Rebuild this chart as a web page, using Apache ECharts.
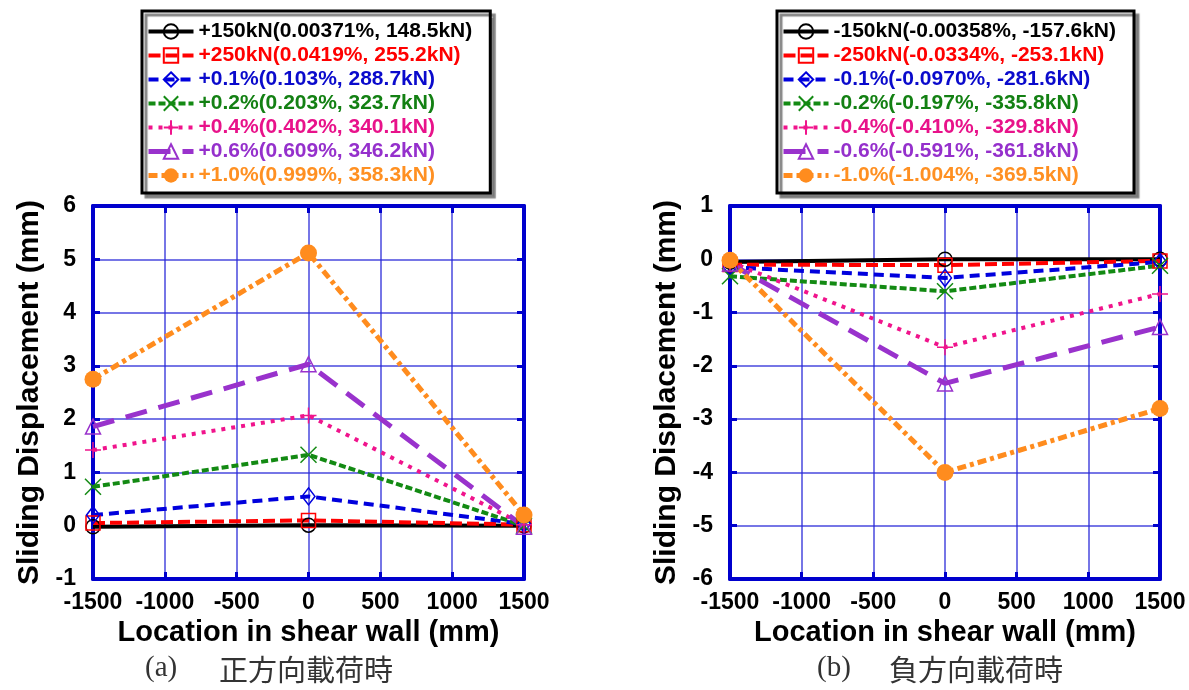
<!DOCTYPE html>
<html>
<head>
<meta charset="utf-8">
<script src="https://cdn.jsdelivr.net/npm/echarts@6/dist/echarts.min.js"></script>
<style>
  html, body { margin: 0; padding: 0; background: #ffffff; }
  #chart { width: 1189px; height: 690px; }
</style>
</head>
<body>
<div id="chart"></div>
<script>
// Measurement positions along the wall (mm)
const locations = [-1500, 0, 1500];

// Positive loading: sliding displacement (mm) at each location
const posNames = [
  '+150kN(0.00371%, 148.5kN)',
  '+250kN(0.0419%, 255.2kN)',
  '+0.1%(0.103%, 288.7kN)',
  '+0.2%(0.203%, 323.7kN)',
  '+0.4%(0.402%, 340.1kN)',
  '+0.6%(0.609%, 346.2kN)',
  '+1.0%(0.999%, 358.3kN)'
];
const pos150kN = [-0.02, 0.01, 0.0];
const pos250kN = [0.05, 0.10, 0.02];
const pos01 = [0.20, 0.55, 0.03];
const pos02 = [0.73, 1.33, 0.0];
const pos04 = [1.42, 2.07, 0.02];
const pos06 = [1.86, 3.03, -0.02];
const pos10 = [2.75, 5.12, 0.20];

// Negative loading: sliding displacement (mm) at each location
const negNames = [
  '-150kN(-0.00358%, -157.6kN)',
  '-250kN(-0.0334%, -253.1kN)',
  '-0.1%(-0.0970%, -281.6kN)',
  '-0.2%(-0.197%, -335.8kN)',
  '-0.4%(-0.410%, -329.8kN)',
  '-0.6%(-0.591%, -361.8kN)',
  '-1.0%(-1.004%, -369.5kN)'
];
const neg150kN = [-0.05, 0.0, 0.0];
const neg250kN = [-0.10, -0.11, -0.03];
const neg01 = [-0.15, -0.35, -0.05];
const neg02 = [-0.32, -0.60, -0.12];
const neg04 = [-0.05, -1.65, -0.65];
const neg06 = [-0.08, -2.33, -1.27];
const neg10 = [-0.02, -4.00, -2.80];

// Axis ranges / tick steps
const xRange = { min: -1500, max: 1500, step: 500 };
const yRangePos = { min: -1, max: 6, step: 1 };
const yRangeNeg = { min: -6, max: 1, step: 1 };

const posValues = [pos150kN, pos250kN, pos01, pos02, pos04, pos06, pos10];
const negValues = [neg150kN, neg250kN, neg01, neg02, neg04, neg06, neg10];

const FONT = '"Liberation Sans", Arial, sans-serif';
const FRAME = '#0000CD';
const GRIDC = 'rgba(40,40,215,0.85)';

const crossPath = 'path://M0,0L10,10M10,0L0,10';
const plusPath = 'path://M5,0L5,10M0,5L10,5';

// Line / marker style for each load step
const styles = [
  { color: '#000000', text: '#000000', width: 4, type: 'solid', symbol: 'circle', size: 14, filled: false },
  { color: '#FF0000', text: '#FF0000', width: 4, type: [12, 5], symbol: 'rect', size: 14, filled: false },
  { color: '#0000DD', text: '#0A0ACC', width: 4, type: [10, 6], symbol: 'diamond', size: [13, 17], filled: false },
  { color: '#138A13', text: '#138013', width: 4, type: [7, 3], symbol: crossPath, size: 16, filled: false },
  { color: '#F0148C', text: '#E8128A', width: 4, type: [4, 6], symbol: plusPath, size: 16, filled: false },
  { color: '#9932CC', text: '#9530CC', width: 5, type: [22, 12], symbol: 'triangle', size: 15, filled: false },
  { color: '#FF8C1E', text: '#FF9022', width: 5, type: [9, 4, 4, 4], symbol: 'circle', size: 17, filled: true }
];

function makeSeries(name, values, st, axisIdx) {
  return {
    type: 'line',
    name: name,
    xAxisIndex: axisIdx,
    yAxisIndex: axisIdx,
    data: locations.map((x, i) => [x, values[i]]),
    symbol: st.symbol,
    symbolSize: st.size,
    showSymbol: true,
    showAllSymbol: true,
    lineStyle: { color: st.color, width: st.width, type: st.type, cap: 'butt' },
    itemStyle: st.filled
      ? { color: st.color }
      : { color: 'rgba(0,0,0,0)', borderColor: st.color, borderWidth: 1.5 },
    emphasis: { disabled: true },
    animation: false
  };
}

const plainNumber = v => String(v);

function bottomX(grid) {
  return {
    type: 'value', gridIndex: grid, position: 'bottom',
    min: xRange.min, max: xRange.max, interval: xRange.step,
    axisLine: { show: true, onZero: false, lineStyle: { color: FRAME, width: 4 } },
    axisTick: { show: true, inside: true, length: 7, lineStyle: { color: FRAME, width: 3 } },
    axisLabel: { show: true, color: '#000', fontFamily: FONT, fontWeight: 'bold', fontSize: 23, margin: 12,
                 formatter: plainNumber, showMinLabel: true, showMaxLabel: true, hideOverlap: false },
    splitLine: { show: true, lineStyle: { color: GRIDC, width: 1.5 } },
    name: 'Location in shear wall (mm)', nameLocation: 'middle', nameGap: 36,
    nameTextStyle: { color: '#000', fontFamily: FONT, fontWeight: 'bold', fontSize: 29 }
  };
}
function topX(grid) {
  return {
    type: 'value', gridIndex: grid, position: 'top',
    min: xRange.min, max: xRange.max, interval: xRange.step,
    axisLine: { show: true, onZero: false, lineStyle: { color: FRAME, width: 4 } },
    axisTick: { show: true, inside: true, length: 7, lineStyle: { color: FRAME, width: 3 } },
    axisLabel: { show: false },
    splitLine: { show: false }
  };
}
function leftY(grid, r) {
  return {
    type: 'value', gridIndex: grid, position: 'left',
    min: r.min, max: r.max, interval: r.step,
    axisLine: { show: true, onZero: false, lineStyle: { color: FRAME, width: 4 } },
    axisTick: { show: true, inside: true, length: 7, lineStyle: { color: FRAME, width: 3 } },
    axisLabel: { show: true, color: '#000', fontFamily: FONT, fontWeight: 'bold', fontSize: 23, margin: 17,
                 formatter: plainNumber, showMinLabel: true, showMaxLabel: true, hideOverlap: false },
    splitLine: { show: true, lineStyle: { color: GRIDC, width: 1.5 } },
    name: 'Sliding Displacement (mm)', nameLocation: 'middle', nameRotate: 90, nameGap: 48,
    nameTextStyle: { color: '#000', fontFamily: FONT, fontWeight: 'bold', fontSize: 30 }
  };
}
function rightY(grid, r) {
  return {
    type: 'value', gridIndex: grid, position: 'right',
    min: r.min, max: r.max, interval: r.step,
    axisLine: { show: true, onZero: false, lineStyle: { color: FRAME, width: 4 } },
    axisTick: { show: true, inside: true, length: 7, lineStyle: { color: FRAME, width: 3 } },
    axisLabel: { show: false },
    splitLine: { show: false }
  };
}

function makeLegend(names, left) {
  return {
    show: true, orient: 'vertical', left: left, top: 11,
    itemWidth: 45, itemHeight: 18, itemGap: 3,
    padding: [10, 18, 7, 4],
    borderColor: '#000', borderWidth: 3, backgroundColor: '#fff',
    shadowColor: 'rgba(120,120,120,0.9)', shadowBlur: 1, shadowOffsetX: 4, shadowOffsetY: 4,
    selectedMode: false,
    lineStyle: { width: 'inherit' },
    textStyle: { fontFamily: FONT, fontWeight: 'bold', fontSize: 21 },
    data: names.map((n, i) => ({ name: n, textStyle: { color: styles[i].text } }))
  };
}

const series = []
  .concat(posNames.map((n, i) => makeSeries(n, posValues[i], styles[i], 0)))
  .concat(negNames.map((n, i) => makeSeries(n, negValues[i], styles[i], 2)));

// yAxis index 0/1 -> left panel, 2/3 -> right panel (same pairing for xAxis)
const option = {
  animation: false,
  backgroundColor: '#ffffff',
  textStyle: { fontFamily: FONT },
  grid: [
    { left: 93, top: 206, width: 431, height: 373, containLabel: false, outerBoundsMode: 'none' },
    { left: 730, top: 206, width: 430, height: 373, containLabel: false, outerBoundsMode: 'none' }
  ],
  xAxis: [bottomX(0), topX(0), bottomX(1), topX(1)],
  yAxis: [leftY(0, yRangePos), rightY(0, yRangePos), leftY(1, yRangeNeg), rightY(1, yRangeNeg)],
  legend: [makeLegend(posNames, 142), makeLegend(negNames, 777)],
  series: series,
  graphic: [
    { type: 'text', left: 145, top: 654, style: { text: '(a)', fontFamily: '"Liberation Serif", serif', fontSize: 29, fill: '#333' } },
    { type: 'text', left: 219, top: 655, style: { text: '正方向載荷時', fontFamily: '"Noto Sans CJK JP"', fontSize: 29, fill: '#333' } },
    { type: 'text', left: 817, top: 654, style: { text: '(b)', fontFamily: '"Liberation Serif", serif', fontSize: 29, fill: '#333' } },
    { type: 'text', left: 889, top: 655, style: { text: '負方向載荷時', fontFamily: '"Noto Sans CJK JP"', fontSize: 29, fill: '#333' } }
  ]
};

const chart = echarts.init(document.getElementById('chart'), null, { renderer: 'canvas' });
chart.setOption(option);
</script>
</body>
</html>
